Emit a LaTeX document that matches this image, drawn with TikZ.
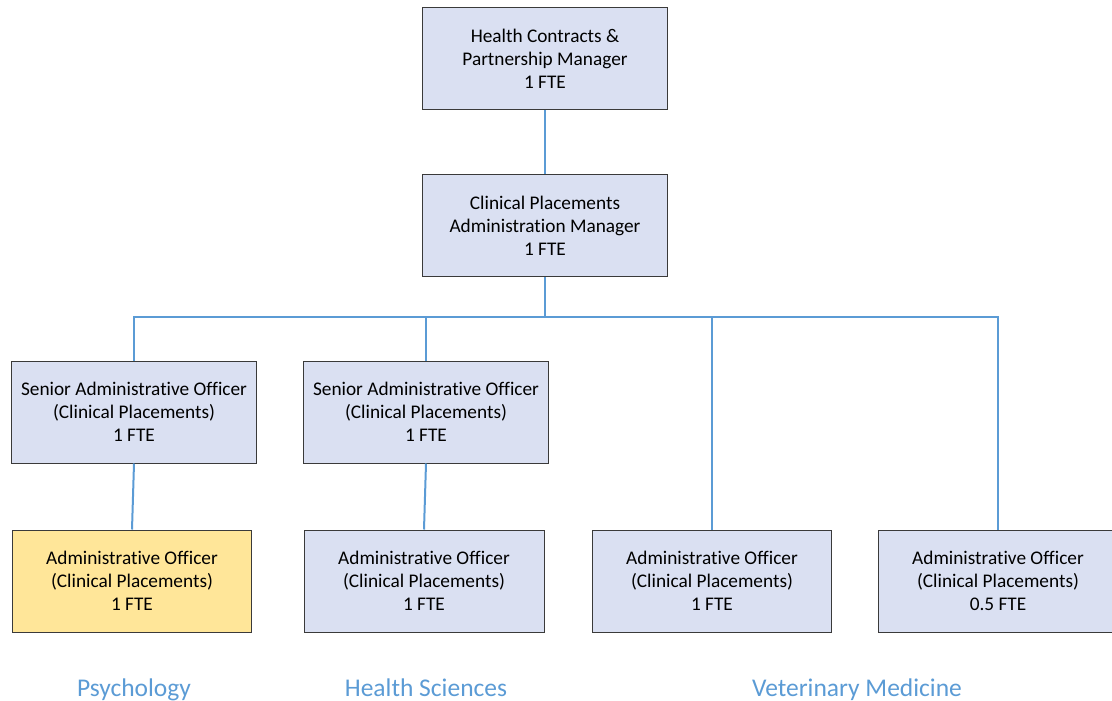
\documentclass[tikz,border=0pt]{standalone}
\usepackage{fontspec}
\setmainfont[Ligatures=NoCommon]{Carlito}
\definecolor{boxfill}{HTML}{DAE0F2}
\definecolor{yelfill}{HTML}{FFE699}
\definecolor{linkblue}{HTML}{5B9BD5}
\definecolor{boxedge}{HTML}{3A3A3A}
\tikzset{
  orgbox/.style={draw=boxedge, line width=1pt, fill=boxfill, minimum height=102pt,
    align=center, inner sep=0pt, font=\fontsize{19.3}{23}\selectfont},
  link/.style={draw=linkblue, line width=2pt},
  grouplabel/.style={text=linkblue, font=\fontsize{25.5}{30}\selectfont, inner sep=0pt, anchor=base}
}
\begin{document}
\begin{tikzpicture}[x=1pt,y=-1pt]
\useasboundingbox (0,0) rectangle (1112,701);
\clip (0,0) rectangle (1112,701);
\node[orgbox, minimum width=245pt] (hc) at (545,58.5) {Health Contracts \&\\Partnership Manager\\1 FTE};
\node[orgbox, minimum width=245pt] (cp) at (545,225.5) {Clinical Placements\\Administration Manager\\1 FTE};
\node[orgbox, minimum width=245pt] (s1) at (134,412) {Senior Administrative Officer\\(Clinical Placements)\\1 FTE};
\node[orgbox, minimum width=245pt] (s2) at (426,412) {Senior Administrative Officer\\(Clinical Placements)\\1 FTE};
\node[orgbox, minimum width=239pt, fill=yelfill] (a1) at (132,581) {Administrative Officer\\(Clinical Placements)\\1 FTE};
\node[orgbox, minimum width=240pt] (a2) at (424,581) {Administrative Officer\\(Clinical Placements)\\1 FTE};
\node[orgbox, minimum width=239pt] (a3) at (712,581) {Administrative Officer\\(Clinical Placements)\\1 FTE};
\node[orgbox, minimum width=240pt] (a4) at (998,581) {Administrative Officer\\(Clinical Placements)\\0.5 FTE};
\coordinate (bus) at (545,317);
\draw[link] (hc.south) -- (cp.north);
\draw[link] (cp.south) -- (bus);
\draw[link] (s1.north) |- (bus);
\draw[link] (s2.north) |- (bus);
\draw[link] (bus) -| (a3.north);
\draw[link] (bus) -| (a4.north);
\draw[link] (s1.south) -- (a1.north);
\draw[link] (s2.south) -- (a2.north);
\node[grouplabel] (lp) at (134,696) {Psychology};
\node[grouplabel] (lh) at (426,696) {Health Sciences};
\node[grouplabel] (lv) at (857,696) {Veterinary Medicine};
\end{tikzpicture}
\end{document}
